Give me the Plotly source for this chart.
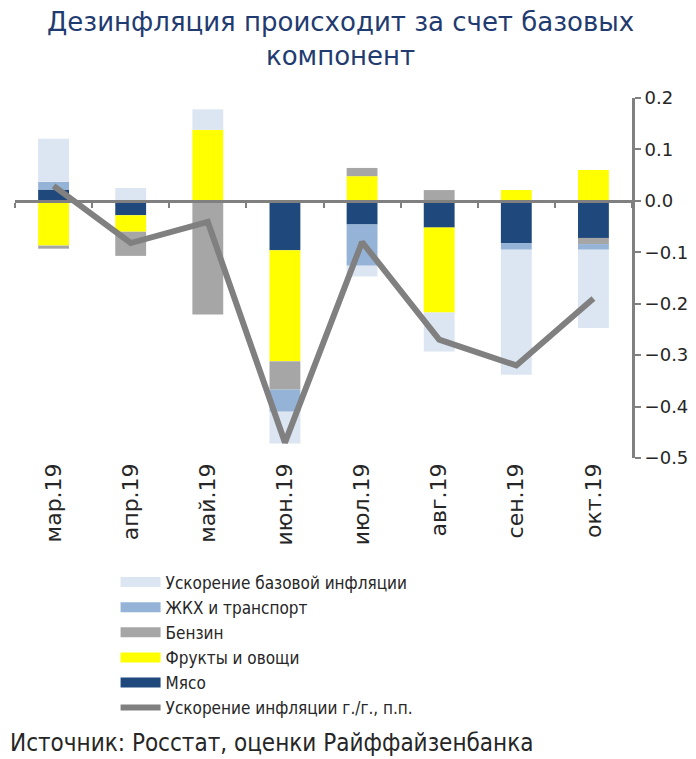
import plotly.graph_objects as go

months = ["мар.19", "апр.19", "май.19", "июн.19", "июл.19", "авг.19", "сен.19", "окт.19"]

meat = [0.022, -0.028, 0.0, -0.096, -0.046, -0.052, -0.082, -0.072]
fruits = [-0.087, -0.032, 0.138, -0.216, 0.048, -0.165, 0.021, 0.060]
petrol = [-0.006, -0.047, -0.221, -0.055, 0.016, 0.021, 0.0, -0.012]
housing = [0.015, 0.0, 0.0, -0.043, -0.080, 0.0, -0.013, -0.011]
core = [0.084, 0.025, 0.040, -0.062, -0.021, -0.076, -0.243, -0.152]
total = [0.029, -0.082, -0.041, -0.470, -0.080, -0.270, -0.320, -0.190]

yticks = [0.2, 0.1, 0.0, -0.1, -0.2, -0.3, -0.4, -0.5]

FONT = "DejaVu Sans, sans-serif"
COND = "DejaVu Sans Condensed, DejaVu Sans, sans-serif"
TXT = "#262626"

series = [
    ("Мясо", meat, "#1f497d", 5),
    ("Фрукты и овощи", fruits, "#ffff00", 4),
    ("Бензин", petrol, "#a6a6a6", 3),
    ("ЖКХ и транспорт", housing, "#95b3d7", 2),
    ("Ускорение базовой инфляции", core, "#dce6f2", 1),
]

fig = go.Figure()
for name, vals, color, rank in series:
    fig.add_trace(go.Bar(x=months, y=vals, name=name, marker=dict(color=color, line=dict(width=0)),
                         showlegend=False))
    fig.add_trace(go.Scatter(x=[None], y=[None], mode="lines", name=name,
                             line=dict(color=color, width=12), legendrank=rank))

fig.add_trace(go.Scatter(x=months, y=total, mode="lines", name="Ускорение инфляции г./г., п.п.",
                         line=dict(color="#808080", width=6), legendrank=6))

# invisible trace to carry the zero-crossing category axis
fig.add_trace(go.Scatter(x=months, y=[0] * len(months), xaxis="x2", mode="lines",
                         line=dict(width=0), showlegend=False, hoverinfo="skip"))

ymin, ymax = -0.5, 0.2
fig.update_layout(
    width=688, height=751,
    margin=dict(l=7, r=64, t=90, b=301),
    paper_bgcolor="white", plot_bgcolor="white",
    barmode="relative", bargap=0.6,
    font=dict(family=FONT, size=17, color=TXT),
    xaxis=dict(type="category", showline=False, ticks="", tickangle=-90,
               showgrid=False, zeroline=False, tickfont=dict(size=22, color=TXT)),
    xaxis2=dict(type="category", overlaying="x", matches="x", anchor="free",
                position=(0 - ymin) / (ymax - ymin), side="bottom",
                showline=True, linecolor="#808080", linewidth=3,
                ticks="outside", tickson="boundaries", ticklen=5, tickwidth=2,
                tickcolor="#808080", showticklabels=False, showgrid=False),
    yaxis=dict(range=[ymin, ymax], side="right", tickvals=yticks, tickformat=".1f",
               showline=True, linecolor="#808080", linewidth=3,
               ticks="outside", ticklen=6, tickwidth=2, tickcolor="#808080",
               showgrid=False, zeroline=False, tickfont=dict(size=18, color=TXT)),
    legend=dict(x=0.163, y=-0.296, xanchor="left", yanchor="top", tracegroupgap=0,
                font=dict(family=COND, size=17, color=TXT), itemwidth=40,
                bgcolor="rgba(0,0,0,0)"),
    annotations=[
        dict(text="Дезинфляция происходит за счет базовых<br>компонент", xref="paper", yref="paper",
             x=0.528, y=1.165, xanchor="center", yanchor="middle", showarrow=False,
             font=dict(family=FONT, size=26, color="#1f3b70")),
        dict(text="Источник: Росстат, оценки Райффайзенбанка", xref="paper", yref="paper",
             x=-0.0113, y=-0.792, xanchor="left", yanchor="middle", showarrow=False,
             font=dict(family=COND, size=24, color=TXT)),
    ],
)

fig.write_html("out.html")
